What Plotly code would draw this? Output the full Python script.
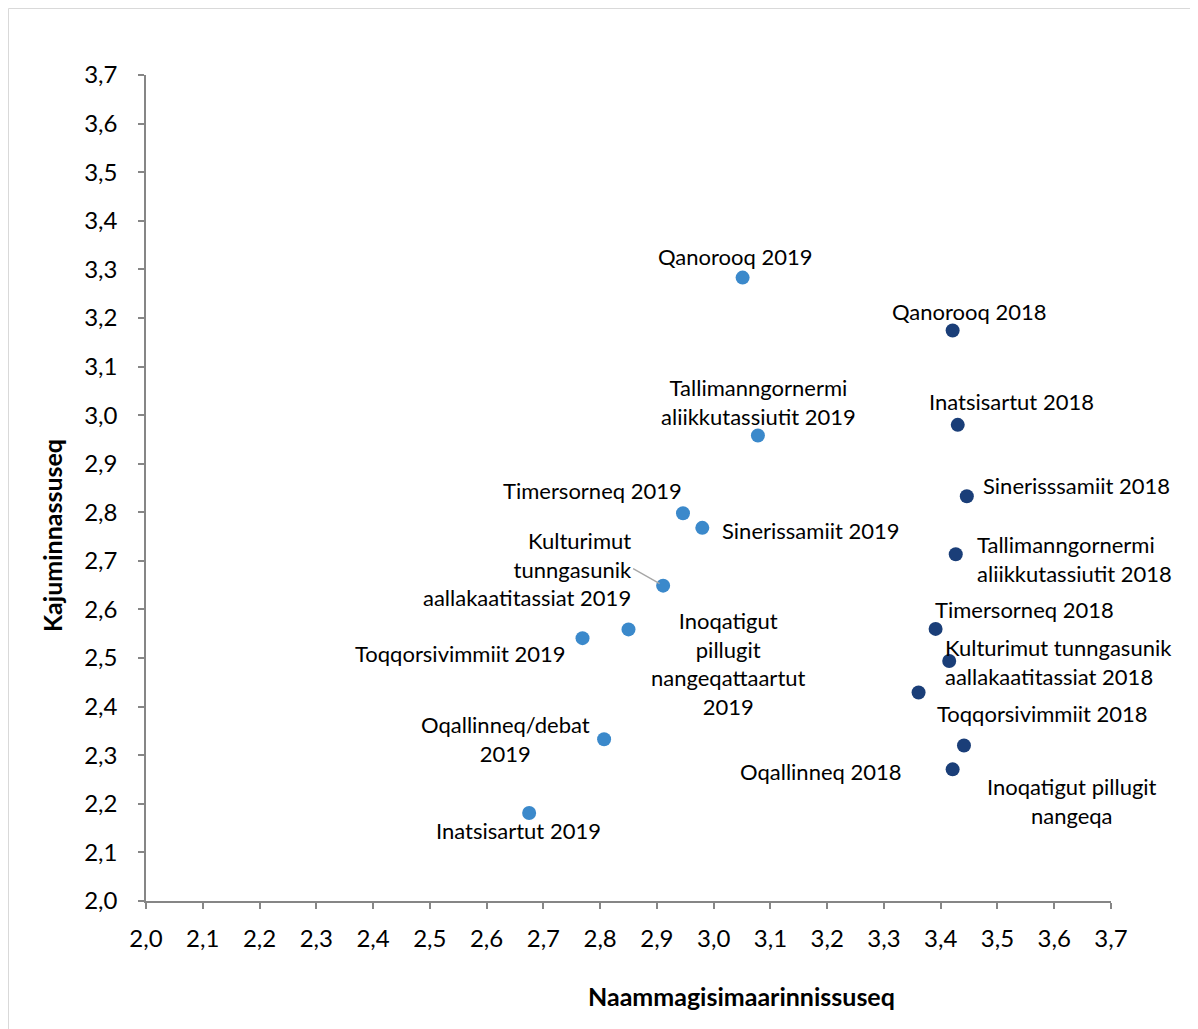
import plotly.graph_objects as go

# ---- data ----
labels_2019 = ["Qanorooq 2019", "Tallimanngornermi<br>aliikkutassiutit 2019", "Timersorneq 2019",
               "Sinerissamiit 2019", "Kulturimut<br>tunngasunik<br>aallakaatitassiat 2019",
               "Inoqatigut<br>pillugit<br>nangeqattaartut<br>2019", "Toqqorsivimmiit 2019",
               "Oqallinneq/debat<br>2019", "Inatsisartut 2019"]
x_2019 = [3.051, 3.078, 2.946, 2.980, 2.911, 2.850, 2.769, 2.807, 2.675]
y_2019 = [3.283, 2.958, 2.798, 2.768, 2.649, 2.559, 2.541, 2.333, 2.181]

labels_2018 = ["Qanorooq 2018", "Inatsisartut 2018", "Sinerisssamiit 2018",
               "Tallimanngornermi<br>aliikkutassiutit 2018", "Timersorneq 2018",
               "Kulturimut tunngasunik<br>aallakaatitassiat 2018", "Toqqorsivimmiit 2018",
               "Inoqatigut pillugit<br>nangeqa", "Oqallinneq 2018"]
x_2018 = [3.421, 3.430, 3.446, 3.4265, 3.391, 3.415, 3.361, 3.441, 3.421]
y_2018 = [3.174, 2.980, 2.833, 2.7135, 2.560, 2.494, 2.429, 2.320, 2.271]

axis_ticks = [2.0, 2.1, 2.2, 2.3, 2.4, 2.5, 2.6, 2.7, 2.8, 2.9, 3.0, 3.1, 3.2, 3.3, 3.4, 3.5, 3.6, 3.7]
x_title = "Naammagisimaarinnissuseq"
y_title = "Kajuminnassuseq"

# ---- label placement: (anchor, dx, dy) in pixels, right/down positive ----
off_2019 = [("center", -7, -21), ("center", 1, -34), ("right", 0, -23), ("left", 19, 3),
            ("right", -30, -17), ("center", 100, 34), ("right", -16, 15), ("center", -99, 0),
            ("center", -11, 17)]
arrow_2019 = [False, False, False, False, True, False, False, False, False]
off_2018 = [("center", 17, -19), ("center", 54, -23), ("left", 15, -11), ("left", 20, 5),
            ("left", -2, -19), ("left", -5, 1), ("left", 17, 21), ("center", 108, 55),
            ("right", -50, 2)]

C2019 = "#3B89CB"
C2018 = "#1A3E78"
FONT = "Lato"
LABEL_SIZE = 22
W, H = 1198, 1029
L, R, T, B = 138, 95, 67, 136
PW, PH = W - L - R, H - T - B

fig = go.Figure()
fig.add_trace(go.Scatter(x=x_2019, y=y_2019, mode="markers", name="2019",
                         marker=dict(size=14, color=C2019), hoverinfo="skip"))
fig.add_trace(go.Scatter(x=x_2018, y=y_2018, mode="markers", name="2018",
                         marker=dict(size=14, color=C2018), hoverinfo="skip"))

annotations = []
def add_labels(xs, ys, texts, offs, arrows):
    for x, y, t, (anc, dx, dy), arr in zip(xs, ys, texts, offs, arrows):
        font = dict(family=FONT, size=LABEL_SIZE, color="#000")
        if arr:
            annotations.append(dict(x=x, y=y, xref="x", yref="y", text=t, align=anc,
                                    showarrow=True, ax=dx, ay=dy, arrowhead=0,
                                    xanchor=anc, yanchor="middle", borderpad=0,
                                    arrowwidth=1.3, arrowcolor="#A6A6A6", standoff=4,
                                    font=font))
        else:
            annotations.append(dict(x=x, y=y, xref="x", yref="y", text=t, align=anc,
                                    showarrow=False, xanchor=anc, yanchor="middle",
                                    borderpad=0, xshift=dx, yshift=-dy, font=font))

add_labels(x_2019, y_2019, labels_2019, off_2019, arrow_2019)
add_labels(x_2018, y_2018, labels_2018, off_2018, [False] * len(x_2018))

# axis titles (figure-pixel positions converted to paper coords)
annotations.append(dict(x=(733 - L) / PW, y=(T + PH - 988) / PH, xref="paper", yref="paper",
                        text="<b>" + x_title + "</b>", showarrow=False,
                        xanchor="center", yanchor="middle",
                        font=dict(family=FONT, size=25, color="#000")))
annotations.append(dict(x=(44 - L) / PW, y=(T + PH - 528) / PH, xref="paper", yref="paper",
                        text="<b>" + y_title + "</b>", showarrow=False, textangle=-90,
                        xanchor="center", yanchor="middle",
                        font=dict(family=FONT, size=25, color="#000")))

border = dict(type="rect", xref="paper", yref="paper",
              x0=(0.5 - L) / PW, x1=(W - 0.5 - L) / PW,
              y0=(T + PH - (H - 0.5)) / PH, y1=(T + PH - 0.5) / PH,
              line=dict(color="#D9D9D9", width=1), fillcolor="rgba(0,0,0,0)", layer="below")

axis_common = dict(showgrid=False, zeroline=False, showline=True, linecolor="#868686",
                   linewidth=1.5, ticks="outside", ticklen=6, tickcolor="#868686",
                   tickwidth=1.5, tickformat=".1f", range=[2.0, 3.7], tickvals=axis_ticks,
                   tickfont=dict(family=FONT, size=24, color="#000"))

fig.update_layout(
    width=W, height=H, autosize=False,
    margin=dict(l=L, r=R, t=T, b=B),
    paper_bgcolor="white", plot_bgcolor="white",
    separators=", ",
    showlegend=False,
    xaxis=dict(ticklabelstandoff=9, **axis_common),
    yaxis=dict(ticklabelstandoff=16, **axis_common),
    annotations=annotations,
    shapes=[border],
)

fig.write_html("out.html")
